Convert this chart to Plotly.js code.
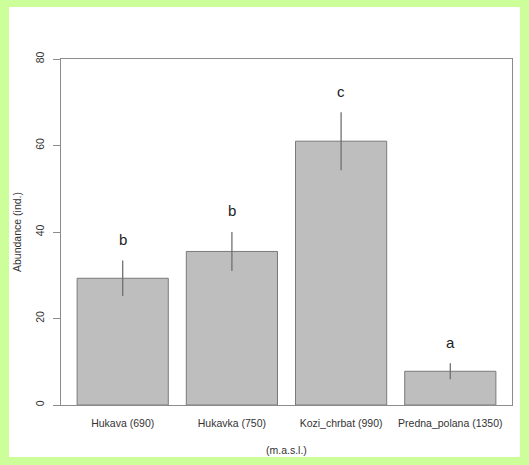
<!DOCTYPE html>
<html>
<head>
<meta charset="utf-8">
<script src="https://cdn.plot.ly/plotly-3.0.1.min.js"></script>
<style>
  html, body { margin: 0; padding: 0; background: #ccff99; width: 529px; height: 465px; overflow: hidden; }
  #chart { position: absolute; left: 9px; top: 7px; width: 511px; height: 450px; background: #ffffff; }
</style>
</head>
<body>
<div id="chart"></div>
<script>
// Mean abundance per site with error half-widths and group letters
const sites = ["Hukava (690)", "Hukavka (750)", "Kozi_chrbat (990)", "Predna_polana (1350)"];
const abundance = [29.3, 35.5, 61.0, 7.8];
const errors = [4.1, 4.5, 6.7, 1.85];
const groups = ["b", "b", "c", "a"];
const yTicks = [0, 20, 40, 60, 80];

const bars = {
  type: "bar",
  x: sites,
  y: abundance,
  width: 0.835,
  marker: { color: "#bebebe", line: { color: "#7a7a7a", width: 1 } },
  error_y: { type: "data", array: errors, visible: true, color: "#707070", thickness: 1.3, width: 0 },
  hoverinfo: "skip"
};

// Group letters sit a fixed distance above each error bar
const letters = sites.map((s, i) => ({
  x: s, y: abundance[i] + errors[i] + 4.9, xref: "x", yref: "y",
  text: groups[i], showarrow: false,
  font: { family: "Liberation Sans, Arial, sans-serif", size: 15, color: "#222" }
}));

const layout = {
  width: 511, height: 450,
  margin: { l: 52, r: 8, t: 52, b: 52 },
  paper_bgcolor: "#ffffff",
  plot_bgcolor: "#ffffff",
  showlegend: false,
  font: { family: "Liberation Sans, Arial, sans-serif", size: 10, color: "#333" },
  xaxis: {
    type: "category",
    range: [-0.565, 3.565],
    showline: true, mirror: true, linecolor: "#8c8c8c", linewidth: 1,
    ticks: "", showgrid: false, zeroline: false,
    tickfont: { size: 10.5, color: "#333" },
    ticklabelstandoff: 8
  },
  yaxis: {
    range: [0, 80],
    tickvals: yTicks,
    ticktext: yTicks.map(String),
    tickangle: -90,
    showline: true, mirror: true, linecolor: "#8c8c8c", linewidth: 1,
    ticks: "outside", ticklen: 7, tickcolor: "#8c8c8c",
    showgrid: false, zeroline: false,
    tickfont: { size: 10.5, color: "#333" },
    ticklabelstandoff: 5
  },
  annotations: letters.concat([
    { xref: "paper", yref: "paper", x: 0.5, y: 0, yshift: -53, text: "(m.a.s.l.)", showarrow: false,
      font: { size: 10.5, color: "#333" } },
    { xref: "paper", yref: "paper", x: 0, xshift: -52, y: 0.5, text: "Abundance (ind.)", textangle: -90,
      showarrow: false, font: { size: 10.5, color: "#333" } }
  ])
};

Plotly.newPlot("chart", [bars], layout, { displayModeBar: false, staticPlot: true });
</script>
</body>
</html>
